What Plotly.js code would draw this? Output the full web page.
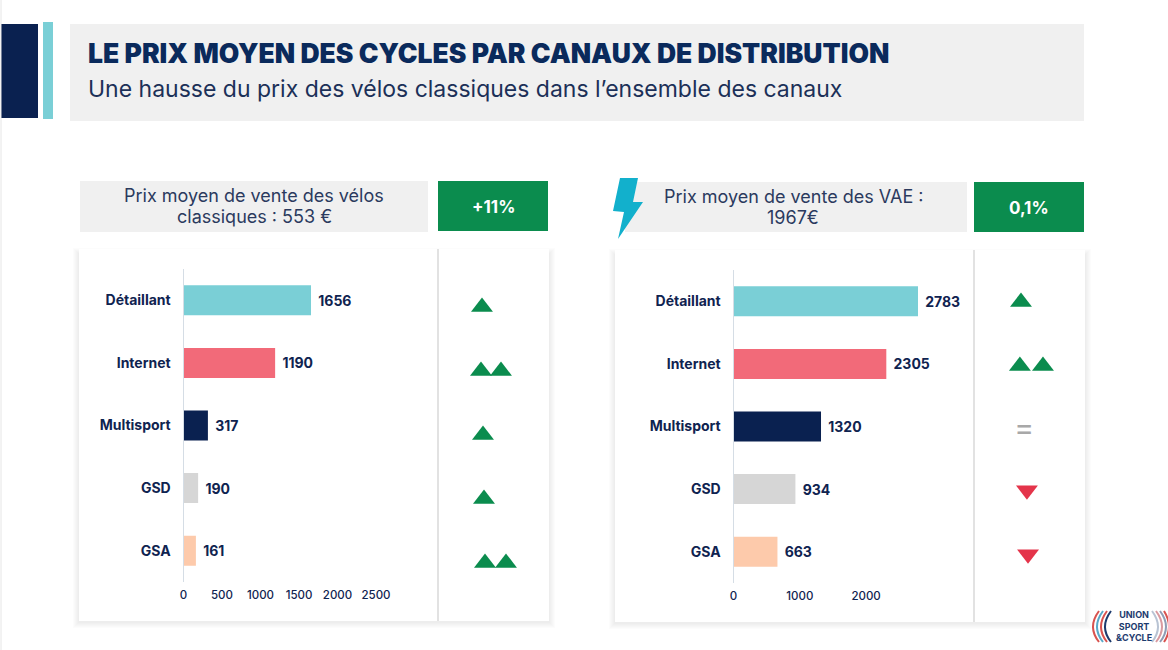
<!DOCTYPE html>
<html><head><meta charset="utf-8">
<script src="https://cdn.plot.ly/plotly-3.0.1.min.js"></script>
<style>html,body{margin:0;padding:0;background:#fff;overflow:hidden}#c{width:1168px;height:650px}</style>
</head><body><div id="c"></div>
<script>
const categories = ['Détaillant','Internet','Multisport','GSD','GSA'];
const barColors = ['#7acfd6','#f26a79','#0a2150','#d6d6d6','#fdcaab'];
const classicValues = [1656,1190,317,190,161];
const vaeValues = [2783,2305,1320,934,663];
const classicTicks = [0,500,1000,1500,2000,2500];
const vaeTicks = [0,1000,2000];
const classicUpRows = [0,1,1,2,3,4,4];
const classicUpSlots = [0,-0.05,0.95,0.05,0.1,0.15,1.2];
const vaeUpRows = [0,1,1];
const vaeUpSlots = [0,-0.05,1];
const vaeDownRows = [2.94,3.94];
const vaeDownSlots = [0.27,0.32];
const vaeEqualRows = [2];
const vaeEqualSlots = [0.14];

const W=1168,H=650,NAVY='#0f2350',TXT='#2b3a5e',GREEN='#0b8c4e',RED='#e4344a';
const FONT='Inter, "Noto Sans", sans-serif';
const fx=p=>p/W, fy=p=>1-p/H;
const rect=(x0,y0,x1,y1,color,extra)=>Object.assign({type:'rect',xref:'paper',yref:'paper',x0:fx(x0),x1:fx(x1),y0:fy(y1),y1:fy(y0),fillcolor:color,line:{width:0},layer:'below'},extra||{});
const path=(pts,color)=>({type:'path',xref:'paper',yref:'paper',layer:'above',fillcolor:color,line:{width:0},
  path:'M'+pts.map(p=>fx(p[0])+','+fy(p[1])).join(' L')+' Z'});
const arc=(x0,y0,cx,cy,x1,y1,color)=>({type:'path',xref:'paper',yref:'paper',layer:'above',line:{color:color,width:2},
  path:`M${fx(x0)},${fy(y0)} Q${fx(cx)},${fy(cy)} ${fx(x1)},${fy(y1)}`});
const vline=(x,y0,y1,c,w)=>({type:'line',xref:'paper',yref:'paper',x0:fx(x),x1:fx(x),y0:fy(y0),y1:fy(y1),line:{color:c,width:w},layer:'above'});
const shadow=(x0,y0,x1,y1)=>{const out=[];for(let i=6;i>=1;i--)out.push(rect(x0-i,y0-i+5,x1+i,y1+i+1,'#000',{opacity:0.012}));return out;};
const note=(text,x,y,size,color,opts,fontExtra)=>Object.assign({text:text,xref:'paper',yref:'paper',x:fx(x),y:fy(y),showarrow:false,xanchor:'center',yanchor:'middle',align:'center',
  font:Object.assign({family:FONT,size:size,color:color},fontExtra||{})},opts||{});

const shapes=[
  vline(1,0,650,'#e6e6e6',1),
  rect(70,24,1084,121,'#f0f0f0'),
  rect(1,24,38,118,'#0a2150'),
  rect(43,22,53,119,'#7acfd6'),
  rect(80,181,428,232,'#f0f0f0'),
  rect(438,181,548,231,GREEN),
  rect(625,182,967,232,'#f0f0f0'),
  rect(974,182,1084,232,GREEN),
  ...shadow(79,249,549,621),
  rect(79,249,549,621,'#fff'),
  ...shadow(615,250,1085,622),
  rect(615,250,1085,622,'#fff'),
  vline(438,249,621,'#d9d9d9',1.5),
  vline(974,250,622,'#d9d9d9',1.5),
  path([[620,178],[638,178],[633,202],[643,202],[618,239],[624,212],[613,211]],'#12b0cc'),
  arc(1099,611,1087,627,1099,642,'#d9534f'),
  arc(1103,611,1091,627,1103,642,'#5aa9c9'),
  arc(1107,611,1095,627,1107,642,'#d9534f'),
  arc(1111,611,1099,627,1111,642,'#1d3b6e'),
  arc(1152,611,1164,627,1152,642,'#b9c4d4'),
  arc(1156,611,1168,627,1156,642,'#d99aa0'),
  arc(1160,611,1172,627,1160,642,'#8f9db5'),
  arc(1164,611,1174,627,1164,642,'#d9534f')
];

const annotations=[
  note('LE PRIX MOYEN DES CYCLES PAR CANAUX DE DISTRIBUTION',86,53,26.5,'#0a2a5c',{xanchor:'left',align:'left'},{weight:900}),
  note('Une hausse du prix des vélos classiques dans l’ensemble des canaux',86,89,23,'#1c3058',{xanchor:'left',align:'left'}),
  note('Prix moyen de vente des vélos',254,195,18,TXT),
  note('classiques : 553 €',254,216,18,TXT),
  note('<b>+11%</b>',493,207,17,'#fff'),
  note('Prix moyen de vente des VAE :',793,197,18,TXT),
  note('1967€',793,217,18,TXT),
  note('<b>0,1%</b>',1029,208,17,'#fff'),
  note('<b>UNION<br>SPORT<br>&amp;CYCLE</b>',1134,626,9,'#1d3b6e')
];

const barTrace=(vals,xa,ya)=>({type:'bar',orientation:'h',x:vals,y:categories,xaxis:xa,yaxis:ya,
  marker:{color:barColors},hoverinfo:'x+y'});
const labelTrace=(vals,xa,ya)=>({type:'scatter',mode:'markers+text',x:vals,y:categories,xaxis:xa,yaxis:ya,cliponaxis:false,
  marker:{size:10,opacity:0},text:vals.map(String),textposition:'middle right',
  textfont:{family:FONT,size:14,color:NAVY,weight:700},hoverinfo:'skip'});
const arrows=(xs,ys,xa,ya,sym,col)=>({type:'scatter',mode:'markers',x:xs,y:ys,xaxis:xa,yaxis:ya,
  marker:{symbol:sym,size:19,color:col,line:{width:0}},hoverinfo:'skip'});

const data=[
  barTrace(classicValues,'x','y'),
  labelTrace(classicValues,'x','y5'),
  barTrace(vaeValues,'x2','y2'),
  labelTrace(vaeValues,'x2','y6'),
  arrows(classicUpSlots,classicUpRows,'x3','y3','triangle-up',GREEN),
  arrows(vaeUpSlots,vaeUpRows,'x4','y4','triangle-up',GREEN),
  arrows(vaeDownSlots,vaeDownRows,'x4','y4','triangle-down',RED),
  {type:'scatter',mode:'text',x:vaeEqualSlots,y:vaeEqualRows,xaxis:'x4',yaxis:'y4',text:['='],
   textfont:{family:FONT,size:30,color:'#a8a8a8'},hoverinfo:'skip'}
];

const xAxis=(x0,x1,range,ticks,anchor)=>({domain:[fx(x0),fx(x1)],range:range,tickmode:'array',tickvals:ticks,ticktext:ticks.map(String),
  anchor:anchor,showgrid:false,zeroline:false,showline:false,ticks:'',ticklabelstandoff:4,
  tickfont:{family:FONT,size:11.5,color:NAVY,weight:500},fixedrange:true});
const yAxis=(y0,y1,anchor)=>({domain:[fy(y1),fy(y0)],type:'category',categoryorder:'array',categoryarray:categories,range:[4.5,-0.5],
  anchor:anchor,showgrid:false,zeroline:false,showline:true,linecolor:'#d5dde5',linewidth:1,ticks:'',ticklabelstandoff:9,
  tickfont:{family:FONT,size:14,color:NAVY,weight:700},fixedrange:true});
const labelY=(y0,y1,anchor)=>({domain:[fy(y1),fy(y0)],type:'category',categoryorder:'array',categoryarray:categories,range:[4.5,-0.5],
  visible:false,anchor:anchor,fixedrange:true});
const hiddenX=(x0,x1,range,anchor)=>({domain:[fx(x0),fx(x1)],range:range,visible:false,anchor:anchor,fixedrange:true});
const hiddenY=(y0,y1,anchor)=>({domain:[fy(y1),fy(y0)],range:[4.5,-0.5],visible:false,anchor:anchor,fixedrange:true});

const layout={
  width:W,height:H,margin:{l:0,r:0,t:0,b:0},paper_bgcolor:'#fff',plot_bgcolor:'rgba(0,0,0,0)',
  showlegend:false,bargap:0.52,shapes:shapes,annotations:annotations,
  xaxis:xAxis(183.5,376,[0,2500],classicTicks,'y'),
  yaxis:yAxis(269,582,'x'),
  xaxis2:xAxis(733.5,918,[0,2783],vaeTicks,'y2'),
  yaxis2:yAxis(270,583,'x2'),
  xaxis3:hiddenX(438,548,[-2.2,3.3],'y3'),
  yaxis3:hiddenY(275,595,'x3'),
  xaxis4:hiddenX(974,1085,[-2.136,2.91],'y4'),
  yaxis4:hiddenY(270,590,'x4'),
  yaxis5:labelY(271,584,'x'),
  yaxis6:labelY(272,585,'x2')
};
Plotly.newPlot('c',data,layout,{displayModeBar:false,staticPlot:true});
</script></body></html>
